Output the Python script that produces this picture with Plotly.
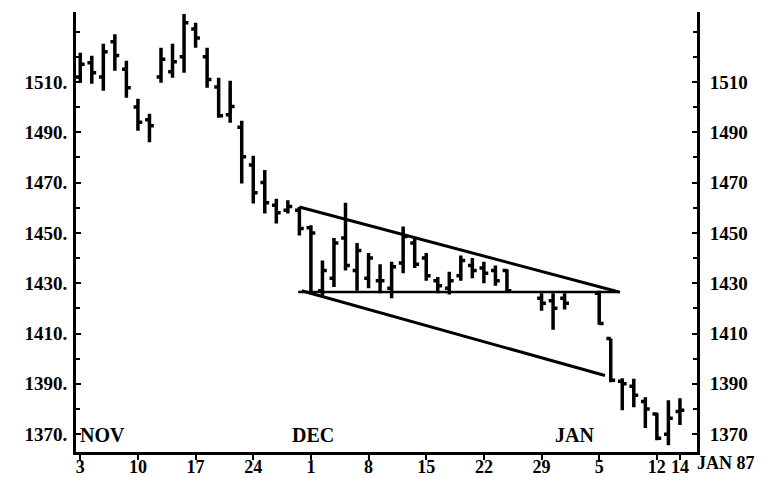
import numpy as np
import plotly.graph_objects as go

# ---- data ----
dates = ["1986-11-03", "1986-11-04", "1986-11-05", "1986-11-06", "1986-11-07",
         "1986-11-10", "1986-11-11", "1986-11-12", "1986-11-13", "1986-11-14",
         "1986-11-17", "1986-11-18", "1986-11-19", "1986-11-20", "1986-11-21",
         "1986-11-24", "1986-11-25", "1986-11-26", "1986-11-27", "1986-11-28",
         "1986-12-01", "1986-12-02", "1986-12-03", "1986-12-04", "1986-12-05",
         "1986-12-08", "1986-12-09", "1986-12-10", "1986-12-11", "1986-12-12",
         "1986-12-15", "1986-12-16", "1986-12-17", "1986-12-18", "1986-12-19",
         "1986-12-22", "1986-12-23", "1986-12-24",
         "1986-12-29", "1986-12-30", "1986-12-31",
         "1987-01-05", "1987-01-06", "1987-01-07", "1987-01-08", "1987-01-09",
         "1987-01-12", "1987-01-13", "1987-01-14"]

opens = [1512, 1517.6, 1512, 1526, 1515,
         1500, 1495, 1512, 1514, 1520,
         1531, 1520, 1508, 1497, 1492,
         1477, 1470, 1461, 1459, 1459,
         1452, 1427, 1432, 1448, 1435,
         1432, 1431, 1428, 1438, 1446,
         1440, 1431, 1428, 1433, 1437,
         1436, 1435, 1435,
         1424, 1423, 1424,
         1426, 1408, 1391, 1389, 1383,
         1378, 1370, 1379]
highs = [1521.6, 1520.4, 1525.2, 1529.0, 1518.4,
         1503.3, 1497.4, 1523.6, 1525.2, 1537.0,
         1533.5, 1523.6, 1511.7, 1510.5, 1494.6,
         1480.7, 1475.0, 1463.6, 1463.0, 1460.3,
         1453, 1439, 1448, 1462, 1446,
         1442, 1437.5, 1438.5, 1452.5, 1448,
         1442, 1432.5, 1434.5, 1441, 1440,
         1438.5, 1437, 1435.5,
         1426, 1426, 1426,
         1427, 1408, 1392.2, 1392, 1384.7,
         1378.5, 1383.5, 1384.3]
lows = [1509.7, 1509.3, 1506.5, 1514.4, 1503.7,
        1490.6, 1486.0, 1509.7, 1511.7, 1513.7,
        1523.6, 1507.7, 1495.8, 1493.8, 1469.6,
        1461.7, 1457.7, 1453.7, 1457.7, 1449.0,
        1425.5, 1424.5, 1428.5, 1435, 1427,
        1428, 1426, 1424, 1434, 1436,
        1431, 1426, 1425.5, 1431, 1432,
        1430, 1429, 1426.5,
        1419, 1411.5, 1419.5,
        1413.5, 1390.6, 1379.5, 1380.7, 1372.4,
        1367.6, 1365.6, 1373.6]
closes = [1517, 1513.7, 1522, 1520.5, 1507.7,
          1494, 1492.6, 1519, 1518, 1533.5,
          1527.5, 1511, 1496.6, 1500.2, 1480.3,
          1466, 1462, 1458, 1460.5, 1451.7,
          1450, 1435, 1446, 1437, 1443,
          1440, 1431, 1436.5, 1448.6, 1437.5,
          1433, 1429, 1431, 1439, 1435,
          1434, 1431, 1427,
          1422, 1420, 1422,
          1414, 1391.4, 1390, 1385.5, 1380,
          1368.4, 1376.3, 1379.5]

# trend lines (in trading-day units from 3 Nov 1986)
upper_line_x = [19.0, 46.8]
upper_line_y = [1460.3, 1426.4]
lower_line_x = [19.2, 45.5]
lower_line_y = [1427.0, 1393.3]
flat_line_x = [18.9, 46.6]
flat_line_y = [1426.5, 1426.5]

# x tick labels
tick_dates = ["1986-11-03", "1986-11-10", "1986-11-17", "1986-11-24", "1986-12-01",
              "1986-12-08", "1986-12-15", "1986-12-22", "1986-12-29", "1987-01-05",
              "1987-01-12", "1987-01-14"]
tick_labels = ["3", "10", "17", "24", "1", "8", "15", "22", "29", "5", "12", "14"]

month_dates = ["1986-11-03", "1986-12-01", "1987-01-01"]
month_labels = ["NOV", "DEC", "JAN"]

y_ticks = [1370, 1390, 1410, 1430, 1450, 1470, 1490, 1510]

start = np.datetime64("1986-11-03")
def tday(d):
    return float(np.busday_count(start, np.datetime64(d)))

x = [tday(d) for d in dates]
tickvals = [tday(d) for d in tick_dates]

FONT = "Liberation Serif"
YR = [1362.9, 1537.8]
XR = [-0.37, 53.48]

fig = go.Figure()
fig.add_trace(go.Ohlc(
    x=x, open=opens, high=highs, low=lows, close=closes,
    increasing=dict(line=dict(color="black", width=3.5)),
    decreasing=dict(line=dict(color="black", width=3.5)),
    tickwidth=0.38, showlegend=False, hoverinfo="skip"))

for lx, ly, w in [(upper_line_x, upper_line_y, 3), (lower_line_x, lower_line_y, 3),
                  (flat_line_x, flat_line_y, 2.5)]:
    fig.add_trace(go.Scatter(x=lx, y=ly, mode="lines", yaxis="y2",
                             line=dict(color="black", width=w),
                             showlegend=False, hoverinfo="skip"))

# month labels
month_x = [tday(month_dates[0]) - 0.2, tday(month_dates[1]) + 0.2, tday(month_dates[2]) - 0.1]
anchors = ["left", "center", "center"]
for mx, lab, an in zip(month_x, month_labels, anchors):
    fig.add_annotation(x=mx, y=1369.6, text=lab, showarrow=False, xanchor=an,
                       yanchor="middle", font=dict(family=FONT, size=20, color="black", weight="bold"))

fig.add_annotation(x=XR[1], xref="x", y=0, yref="paper", text="JAN 87", showarrow=False,
                   xanchor="left", yanchor="top", xshift=-2, yshift=1,
                   font=dict(family=FONT, size=18, color="black", weight="bold"))

tickfont = dict(family=FONT, size=19, color="black", weight="bold")
xtickfont = dict(family=FONT, size=18, color="black", weight="bold")

# page body has an 8px default margin, so the figure is sized to fit the window
fig.update_layout(
    width=772, height=469,
    margin=dict(l=68, r=83, t=4, b=25),
    paper_bgcolor="white", plot_bgcolor="white",
    xaxis=dict(range=XR, showgrid=False, zeroline=False, rangeslider=dict(visible=False),
               automargin=False,
               showline=True, linecolor="black", linewidth=3,
               ticks="outside", ticklen=5, tickwidth=2, tickcolor="black",
               ticklabelstandoff=-9,
               tickvals=tickvals, ticktext=tick_labels, tickfont=xtickfont),
    yaxis=dict(range=YR, showgrid=False, zeroline=False, automargin=False,
               showline=True, linecolor="black", linewidth=3,
               ticks="inside", ticklen=5, tickwidth=2, tickcolor="black",
               tickvals=y_ticks, ticktext=[f"{v}." for v in y_ticks], tickfont=tickfont,
               ticklabelstandoff=2,
               minor=dict(dtick=10, ticks="inside", ticklen=4, tickwidth=2, tickcolor="black")),
    yaxis2=dict(range=YR, overlaying="y", side="right", showgrid=False, zeroline=False,
                automargin=False,
                showline=True, linecolor="black", linewidth=3,
                ticks="inside", ticklen=5, tickwidth=2, tickcolor="black",
                tickvals=y_ticks, ticktext=[str(v) for v in y_ticks], tickfont=tickfont,
                ticklabelstandoff=6,
                minor=dict(dtick=10, ticks="inside", ticklen=4, tickwidth=2, tickcolor="black")),
)

fig.write_html("out.html")
